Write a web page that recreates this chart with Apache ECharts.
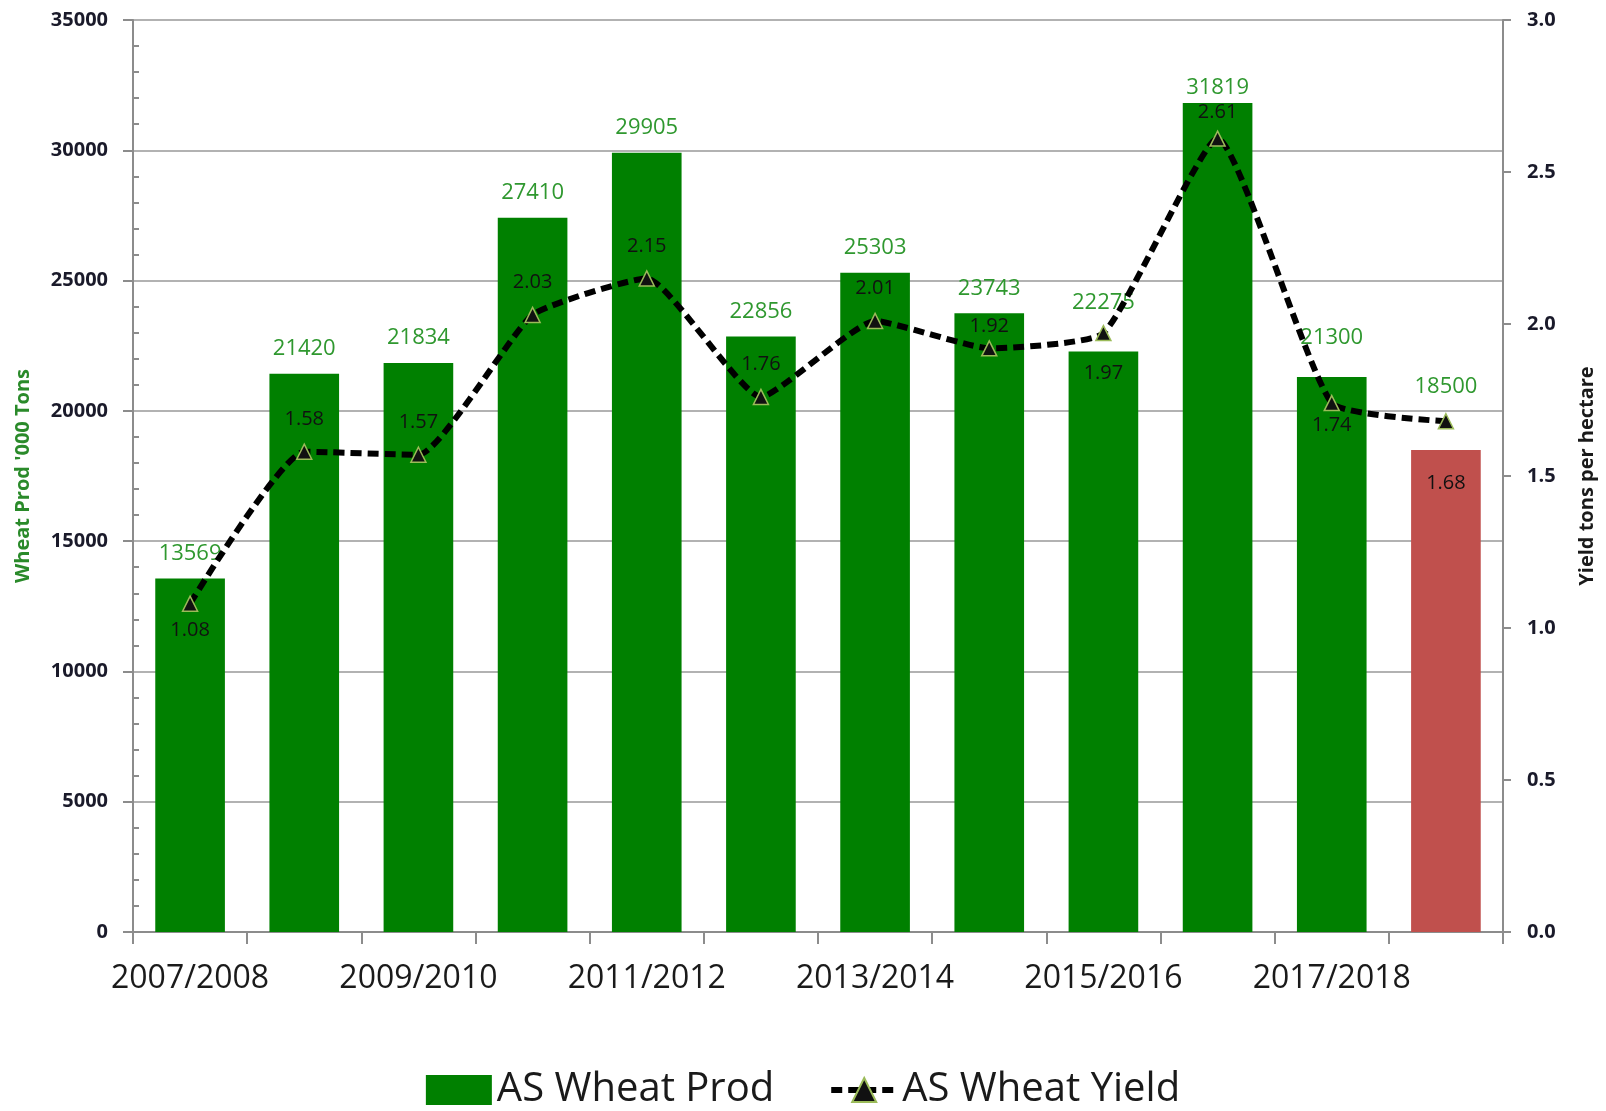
<!DOCTYPE html>
<html style="height: 100%">
<head>
  <meta charset="utf-8">
</head>
<body style="height: 100%; margin: 0">
  <div id="container" style="height: 100%"></div>

  <script type="text/javascript" src="https://cdn.jsdelivr.net/npm/echarts@6/dist/echarts.min.js"></script>
  <script type="text/javascript">
    // marketing years, one bar per year
    var years = ['2007/2008', '2008/2009', '2009/2010', '2010/2011', '2011/2012', '2012/2013',
      '2013/2014', '2014/2015', '2015/2016', '2016/2017', '2017/2018', '2018/2019'];
    // production, '000 tons
    var prod = [13569, 21420, 21834, 27410, 29905, 22856, 25303, 23743, 22275, 31819, 21300, 18500];
    // yield, tons per hectare
    var yieldVals = [1.08, 1.58, 1.57, 2.03, 2.15, 1.76, 2.01, 1.92, 1.97, 2.61, 1.74, 1.68];
    // last year is an estimate (red bar)
    var estimateIndex = 11;

    // label layout only: gap above each bar, and where each yield label sits
    var prodLabelGap = [14, 14, 14, 14, 14, 14, 14, 14, 38, 4, 28, 52];
    var yieldLabelAt = ['bottom', 'top', 'top', 'top', 'top', 'top', 'top', 'top', 'bottom', 'top', 'bottom', 'bottom'];
    var yieldLabelGap = [8, 14, 14, 14, 14, 14, 14, 4, 22, 8, 4, 44];

    var dom = document.getElementById('container');
    var myChart = echarts.init(dom);

    var font = 'Open Sans';
    var axisGray = '#8c8c8c';

    var barData = prod.map(function (v, i) {
      var item = { value: v, label: { distance: prodLabelGap[i] } };
      if (i === estimateIndex) {
        item.itemStyle = { color: '#C0504D' };
      }
      return item;
    });

    var lineData = yieldVals.map(function (v, i) {
      return {
        value: v,
        label: { position: yieldLabelAt[i], distance: yieldLabelGap[i] }
      };
    });

    var option = {
      backgroundColor: '#ffffff',
      animation: false,
      textStyle: { fontFamily: font },
      grid: { left: 133, right: 103, top: 20, bottom: 179 },
      legend: {
        top: 1070,
        left: 'center',
        padding: 0,
        itemWidth: 66,
        itemHeight: 30,
        itemGap: 54,
        textStyle: { fontSize: 40, color: '#1a1a1a', fontFamily: font },
        data: [
          { name: 'AS Wheat Prod', icon: 'rect' },
          { name: 'AS Wheat Yield', lineStyle: { width: 6, type: [11, 6] } }
        ]
      },
      xAxis: {
        type: 'category',
        data: years,
        axisLine: { lineStyle: { color: axisGray, width: 2 } },
        axisTick: { show: true, interval: 0, length: 12, lineStyle: { color: axisGray, width: 2 } },
        axisLabel: { interval: 1, fontSize: 32, color: '#1a1a1a', margin: 31, fontFamily: font }
      },
      yAxis: [
        {
          type: 'value',
          min: 0,
          max: 35000,
          interval: 5000,
          name: "Wheat Prod '000 Tons",
          nameLocation: 'middle',
          nameRotate: 90,
          nameGap: 100,
          nameTextStyle: { color: '#2a8a2a', fontWeight: 'bold', fontSize: 20, fontFamily: font },
          axisLine: { show: true, lineStyle: { color: axisGray, width: 2 } },
          axisTick: { show: true, length: 10, lineStyle: { color: axisGray, width: 2 } },
          minorTick: { show: true, splitNumber: 5, length: -6, lineStyle: { color: axisGray, width: 2 } },
          axisLabel: {
            fontSize: 20, fontWeight: 'bold', color: '#1a1a2a', margin: 25, fontFamily: font,
            formatter: function (v) { return String(v); }
          },
          splitLine: { show: true, lineStyle: { color: '#999999', width: 1.5 } }
        },
        {
          type: 'value',
          min: 0,
          max: 3,
          interval: 0.5,
          position: 'right',
          name: 'Yield tons per hectare',
          nameLocation: 'middle',
          nameRotate: 90,
          nameGap: 74,
          nameTextStyle: { color: '#1a1a1a', fontWeight: 'bold', fontSize: 20, fontFamily: font },
          axisLine: { show: true, lineStyle: { color: axisGray, width: 2 } },
          axisTick: { show: true, length: 8, lineStyle: { color: axisGray, width: 2 } },
          axisLabel: {
            fontSize: 20, fontWeight: 'bold', color: '#1a1a2a', margin: 24, fontFamily: font,
            formatter: function (v) { return v.toFixed(1); }
          },
          splitLine: { show: false }
        }
      ],
      series: [
        {
          name: 'AS Wheat Prod',
          type: 'bar',
          data: barData,
          barWidth: '61%',
          itemStyle: { color: '#008000' },
          label: {
            show: true,
            position: 'top',
            color: '#2f982f',
            fontSize: 22,
            fontFamily: font
          },
          z: 2
        },
        {
          name: 'AS Wheat Yield',
          type: 'line',
          yAxisIndex: 1,
          data: lineData,
          smooth: 0.15,
          symbol: 'triangle',
          symbolSize: 15,
          itemStyle: { color: '#111111', borderColor: '#9BBB59', borderWidth: 1.5 },
          lineStyle: { color: '#000000', width: 6, type: [11, 6] },
          label: {
            show: true,
            color: '#111111',
            fontSize: 20,
            fontFamily: font,
            formatter: function (p) { return p.value.toFixed(2); }
          },
          z: 5
        }
      ]
    };

    myChart.setOption(option);
  </script>
</body>
</html>
